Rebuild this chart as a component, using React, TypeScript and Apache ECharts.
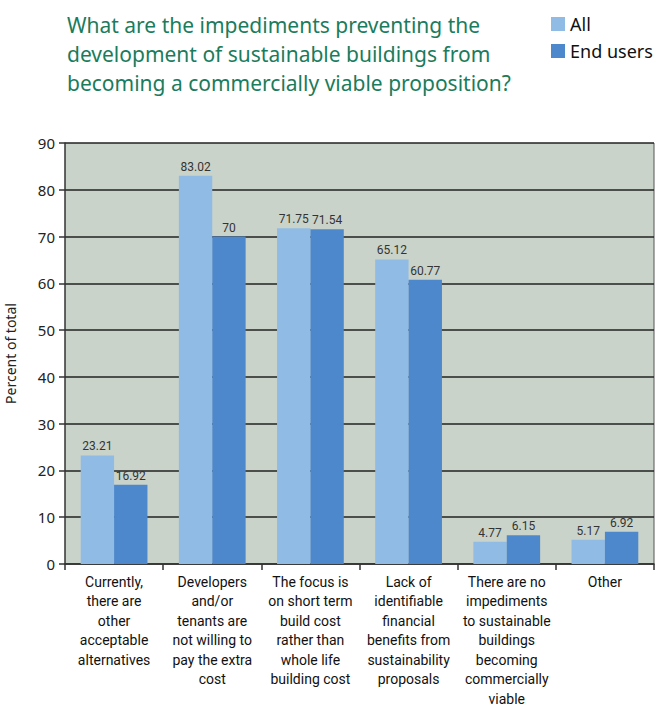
import React, { useEffect, useRef } from "react";
import * as echarts from "echarts";

const categories = [
  "Currently,\nthere are\nother\nacceptable\nalternatives",
  "Developers\nand/or\ntenants are\nnot willing to\npay the extra\ncost",
  "The focus is\non short term\nbuild cost\nrather than\nwhole life\nbuilding cost",
  "Lack of\nidentifiable\nfinancial\nbenefits from\nsustainability\nproposals",
  "There are no\nimpediments\nto sustainable\nbuildings\nbecoming\ncommercially\nviable",
  "Other",
];
const allValues = [23.21, 83.02, 71.75, 65.12, 4.77, 5.17];
const endUserValues = [16.92, 70, 71.54, 60.77, 6.15, 6.92];
const seriesNames = ["All", "End users"];
const titleText =
  "What are the impediments preventing the\ndevelopment of sustainable buildings from\nbecoming a commercially viable proposition?";

const FONT = "'Liberation Sans Narrow', 'Roboto', 'Noto Sans', sans-serif";

export default function App() {
  const ref = useRef<HTMLDivElement>(null);
  useEffect(() => {
    document.body.style.margin = "0";
    const chart = echarts.init(ref.current!, undefined, { renderer: "svg" });
    const labelStyle = {
      show: true,
      position: "top" as const,
      color: "#333",
      fontSize: 12,
      fontFamily: FONT,
      distance: 3,
    };
    chart.setOption({
      animation: false,
      backgroundColor: "#ffffff",
      title: {
        text: titleText,
        left: 62,
        top: 5,
        textStyle: {
          color: "#1a7c5c",
          fontSize: 21,
          fontWeight: "normal",
          fontFamily: "'Noto Sans', sans-serif",
          lineHeight: 29,
        },
      },
      legend: {
        data: seriesNames,
        orient: "vertical",
        left: 546,
        top: 10,
        itemWidth: 14,
        itemHeight: 14,
        itemGap: 9,
        icon: "rect",
        textStyle: { color: "#111", fontSize: 18, lineHeight: 18, fontFamily: "'Noto Sans', sans-serif" },
      },
      grid: {
        left: 65,
        right: 2,
        top: 143,
        bottom: 145,
        outerBoundsMode: "none",
        containLabel: false,
        show: true,
        backgroundColor: "#cad3ca",
        borderWidth: 0,
      },
      xAxis: {
        type: "category",
        data: categories,
        axisLine: { lineStyle: { color: "#333", width: 1.5 } },
        axisTick: { show: true, length: 6, lineStyle: { color: "#333", width: 1.5 } },
        axisLabel: {
          color: "#111",
          fontSize: 14,
          lineHeight: 19.5,
          fontFamily: FONT,
          interval: 0,
          margin: 8,
          verticalAlign: "top",
        },
      },
      yAxis: {
        type: "value",
        min: 0,
        max: 90,
        interval: 10,
        name: "Percent of total",
        nameLocation: "middle",
        nameGap: 48,
        nameTextStyle: { color: "#222", fontSize: 14, fontFamily: "'Noto Sans', sans-serif" },
        axisLine: { show: true, lineStyle: { color: "#333", width: 1.5 } },
        axisTick: { show: true, length: 6, lineStyle: { color: "#333", width: 1.5 } },
        axisLabel: { color: "#222", fontSize: 15, fontFamily: "'Noto Sans', sans-serif", margin: 10 },
        splitLine: { show: true, lineStyle: { color: "#222", width: 1.5 } },
      },
      series: [
        {
          name: seriesNames[0],
          type: "bar",
          data: allValues,
          barGap: "0%",
          barCategoryGap: "32%",
          itemStyle: { color: "#8fbbe4" },
          label: labelStyle,
        },
        {
          name: seriesNames[1],
          type: "bar",
          data: endUserValues,
          itemStyle: { color: "#4d88cc" },
          label: labelStyle,
        },
      ],
      graphic: [
        {
          type: "line",
          shape: { x1: 654, y1: 143, x2: 654, y2: 564 },
          style: { stroke: "#555", lineWidth: 1 },
        },
      ],
    });
    return () => chart.dispose();
  }, []);
  return <div ref={ref} style={{ width: 656, height: 709 }} />;
}
